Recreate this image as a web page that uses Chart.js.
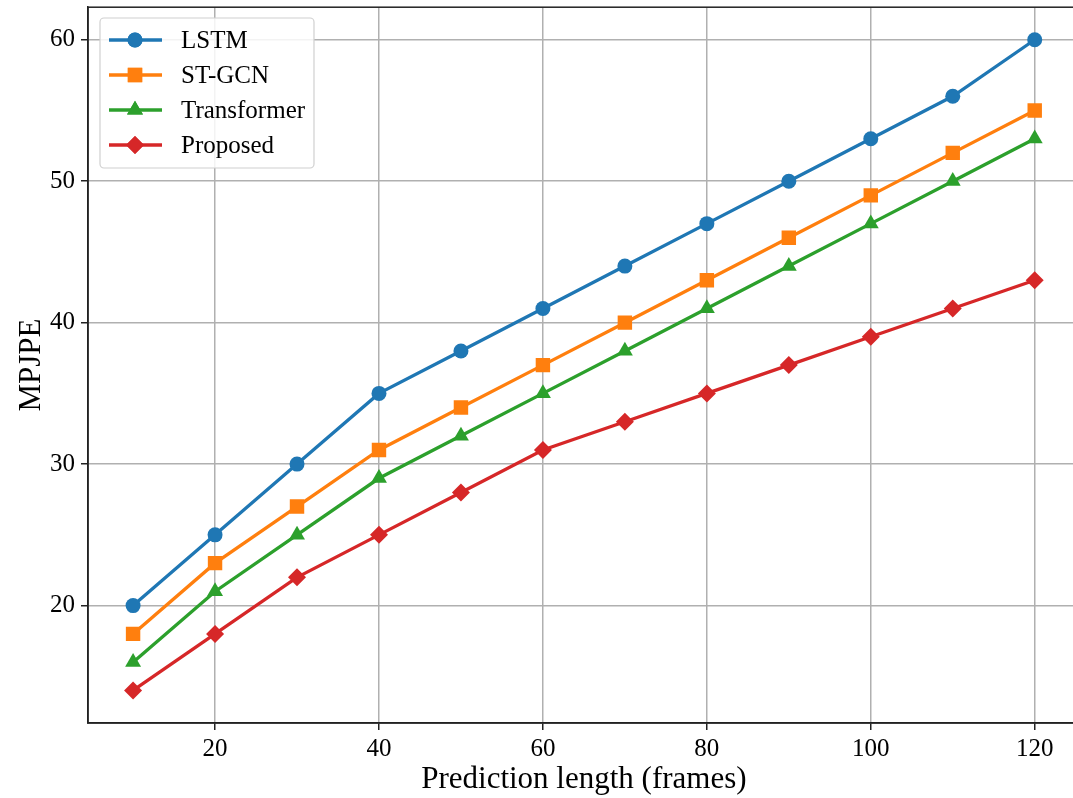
<!DOCTYPE html>
<html>
<head>
<meta charset="utf-8">
<script src="https://cdn.jsdelivr.net/npm/chart.js@4.4.1/dist/chart.umd.min.js"></script>
<style>
  html, body { margin: 0; padding: 0; background: #fff; overflow: hidden; }
  #wrap { width: 1090px; height: 801px; margin-top: -3px; }
</style>
</head>
<body>
<div id="wrap"><canvas id="chart" width="1090" height="801"></canvas></div>
<script>
// data
const frames = [10, 20, 30, 40, 50, 60, 70, 80, 90, 100, 110, 120];
const lstm = [20, 25, 30, 35, 38, 41, 44, 47, 50, 53, 56, 60];
const stgcn = [18, 23, 27, 31, 34, 37, 40, 43, 46, 49, 52, 55];
const transformer = [16, 21, 25, 29, 32, 35, 38, 41, 44, 47, 50, 53];
const proposed = [14, 18, 22, 25, 28, 31, 33, 35, 37, 39, 41, 43];
const xTicks = [20, 40, 60, 80, 100, 120];
const yTicks = [20, 30, 40, 50, 60];

const FONT = '"Liberation Serif", "Times New Roman", serif';

function series(label, values, color, style, radius) {
    return {
        label: label,
        data: frames.map((f, i) => ({ x: f, y: values[i] })),
        borderColor: color,
        backgroundColor: color,
        borderWidth: 3.3,
        pointStyle: style,
        pointRadius: radius,
        pointHoverRadius: radius,
        pointBorderWidth: 0
    };
}

// frame on all sides + legend box in the upper left, like matplotlib
const framePlugin = {
    id: 'framePlugin',
    afterDraw(chart) {
        const ctx = chart.ctx;
        const a = chart.chartArea;
        ctx.save();
        ctx.strokeStyle = '#222';
        ctx.lineWidth = 1.5;
        ctx.strokeRect(a.left, a.top, a.right - a.left, a.bottom - a.top);

        // legend (canvas is shifted up 3px)
        const bx = 100, by = 21, bw = 214, bh = 150;
        ctx.fillStyle = 'rgba(255,255,255,0.85)';
        ctx.strokeStyle = '#d0d0d0';
        ctx.lineWidth = 1.2;
        ctx.beginPath();
        ctx.roundRect(bx, by, bw, bh, 4);
        ctx.fill();
        ctx.stroke();

        chart.data.datasets.forEach((ds, i) => {
            const yy = 43 + i * 35;
            ctx.strokeStyle = ds.borderColor;
            ctx.lineWidth = 3.3;
            ctx.beginPath();
            ctx.moveTo(109, yy);
            ctx.lineTo(162, yy);
            ctx.stroke();
            ctx.fillStyle = ds.backgroundColor;
            Chart.helpers.drawPoint(ctx, { pointStyle: ds.pointStyle, radius: ds.pointRadius, borderWidth: 0, rotation: 0 }, 135, yy);
            ctx.fill();
            ctx.fillStyle = '#000';
            ctx.font = '25px ' + FONT;
            ctx.textBaseline = 'middle';
            ctx.textAlign = 'left';
            ctx.fillText(ds.label, 181, yy + 1);
        });
        ctx.restore();
    }
};

new Chart(document.getElementById('chart'), {
    type: 'line',
    data: {
        datasets: [
            series('LSTM', lstm, '#1f77b4', 'circle', 7.5),
            series('ST-GCN', stgcn, '#ff7f0e', 'rect', 10.2),
            series('Transformer', transformer, '#2ca02c', 'triangle', 9.2),
            series('Proposed', proposed, '#d62728', 'rectRot', 9)
        ]
    },
    options: {
        responsive: false,
        animation: false,
        layout: { padding: { top: 1.5, right: 6 } },
        plugins: {
            legend: { display: false },
            tooltip: { enabled: false }
        },
        scales: {
            x: {
                type: 'linear',
                min: 4.5,
                max: 125.5,
                afterBuildTicks: s => { s.ticks = xTicks.map(v => ({ value: v })); },
                afterFit: s => { s.height = 75; s.paddingLeft = 0; s.paddingRight = 0; },
                grid: { color: '#b0b0b0', lineWidth: 1.5, tickColor: '#222', tickLength: 7 },
                border: { color: '#222', width: 1.5 },
                ticks: { color: '#000', font: { family: FONT, size: 25 }, padding: 4, maxRotation: 0 },
                title: { display: true, text: 'Prediction length (frames)', color: '#000', font: { family: FONT, size: 31 }, padding: { top: 4, bottom: 0 } }
            },
            y: {
                min: 11.7,
                max: 62.3,
                afterBuildTicks: s => { s.ticks = yTicks.map(v => ({ value: v })); },
                afterFit: s => { s.width = 88; s.paddingTop = 0; s.paddingBottom = 0; },
                grid: { color: '#b0b0b0', lineWidth: 1.5, tickColor: '#222', tickLength: 7 },
                border: { color: '#222', width: 1.5 },
                ticks: { color: '#000', font: { family: FONT, size: 25 }, padding: 6 },
                title: { display: true, text: 'MPJPE', color: '#000', font: { family: FONT, size: 31 }, padding: { top: 13, bottom: 0 } }
            }
        }
    },
    plugins: [framePlugin]
});
</script>
</body>
</html>
